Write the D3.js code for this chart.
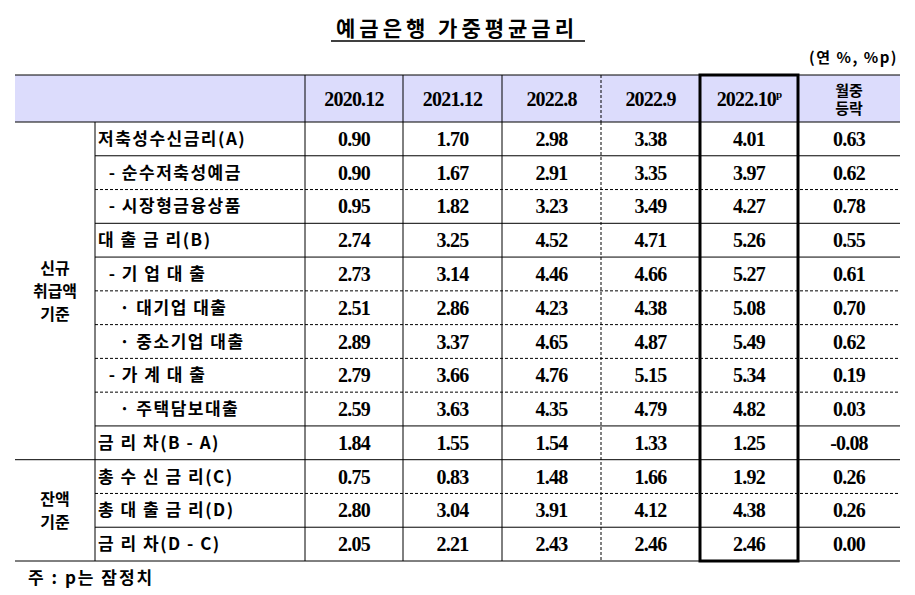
<!DOCTYPE html>
<html><head><meta charset="utf-8">
<script src="https://cdn.jsdelivr.net/npm/d3@7"></script>
<style>body{margin:0;background:#fff} text{white-space:pre}</style>
</head><body><svg id="chart" width="915" height="595"></svg>
<script>
const title = '예금은행 가중평균금리';
const unit = '(연 %, %p)';
const note = '주 : p는 잠정치';
const periods = ['2020.12', '2021.12', '2022.8', '2022.9', '2022.10', '월중 등락'];
const groups = [{name: ['신규', '취급액', '기준'], from: 0, to: 10}, {name: ['잔액', '기준'], from: 10, to: 13}];
const labels = ['저축성수신금리(A)', '  - 순수저축성예금', '  - 시장형금융상품', '대 출 금 리(B)', '  - 기 업 대 출',
  '    · 대기업 대출', '    · 중소기업 대출', '  - 가 계 대 출', '    · 주택담보대출', '금 리 차(B - A)',
  '총 수 신 금 리(C)', '총 대 출 금 리(D)', '금 리 차(D - C)'];
const v202012 = [0.90, 0.90, 0.95, 2.74, 2.73, 2.51, 2.89, 2.79, 2.59, 1.84, 0.75, 2.80, 2.05];
const v202112 = [1.70, 1.67, 1.82, 3.25, 3.14, 2.86, 3.37, 3.66, 3.63, 1.55, 0.83, 3.04, 2.21];
const v202208 = [2.98, 2.91, 3.23, 4.52, 4.46, 4.23, 4.65, 4.76, 4.35, 1.54, 1.48, 3.91, 2.43];
const v202209 = [3.38, 3.35, 3.49, 4.71, 4.66, 4.38, 4.87, 5.15, 4.79, 1.33, 1.66, 4.12, 2.46];
const v202210 = [4.01, 3.97, 4.27, 5.26, 5.27, 5.08, 5.49, 5.34, 4.82, 1.25, 1.92, 4.38, 2.46];
const change  = [0.63, 0.62, 0.78, 0.55, 0.61, 0.70, 0.62, 0.19, 0.03, -0.08, 0.26, 0.26, 0.00];
const columns = [v202012, v202112, v202208, v202209, v202210, change];
// line under each row: true = solid, false = dashed
const solidBelow = [true, false, true, true, false, false, false, false, true, true, false, true, true];

const svg = d3.select('#chart');
const kr = "'Noto Sans CJK KR', sans-serif";
const num = "'Liberation Serif', serif";

const x = d3.scaleOrdinal().domain(['g', 'l', ...periods]).range([15, 95, 305, 403, 502, 601, 700, 798]);
const xEnd = 900;
const colW = (i) => (i < periods.length - 1 ? x(periods[i + 1]) : xEnd) - x(periods[i]);
const y = d3.scaleBand().domain(d3.range(labels.length)).range([122, 561]);
const headTop = 75;

// title
svg.append('text').attr('x', 457).attr('y', 36).attr('text-anchor', 'middle')
  .attr('font-family', kr).attr('font-size', 21).attr('font-weight', 700).attr('letter-spacing', 4).text(title);
svg.append('line').attr('x1', 331).attr('x2', 585).attr('y1', 41).attr('y2', 41).attr('stroke', '#000').attr('stroke-width', 1.5);
svg.append('text').attr('x', 898).attr('y', 63).attr('text-anchor', 'end')
  .attr('font-family', kr).attr('font-size', 15).attr('font-weight', 700).attr('letter-spacing', 1.5).text(unit);

// header
svg.append('rect').attr('x', 15).attr('y', headTop).attr('width', xEnd - 15).attr('height', y.range()[0] - headTop).attr('fill', '#dcdcfc');
periods.forEach((p, i) => {
  const cx = x(p) + colW(i) / 2;
  if (i === 5) {
    ['월중', '등락'].forEach((t, k) => svg.append('text').attr('x', cx).attr('y', 96 + k * 18).attr('text-anchor', 'middle')
      .attr('font-family', kr).attr('font-size', 15).attr('font-weight', 700).text(t));
  } else {
    const t = svg.append('text').attr('x', cx).attr('y', 106).attr('text-anchor', 'middle')
      .attr('font-family', num).attr('font-size', 20).attr('font-weight', 700).attr('letter-spacing', -0.8).text(p);
    if (i === 4) t.append('tspan').attr('font-size', 11).attr('dy', -8).text('p');
  }
});

// body text
labels.forEach((l, r) => {
  svg.append('text').attr('x', 98).attr('y', y(r) + y.bandwidth() / 2 + 6)
    .attr('font-family', kr).attr('font-size', 17).attr('font-weight', 700).attr('letter-spacing', 1.5).text(l);
  columns.forEach((col, i) => {
    svg.append('text').attr('x', x(periods[i]) + colW(i) / 2).attr('y', y(r) + y.bandwidth() / 2 + 7)
      .attr('text-anchor', 'middle').attr('font-family', num).attr('font-size', 20).attr('font-weight', 700)
      .attr('letter-spacing', -0.8).text(col[r].toFixed(2));
  });
});
groups.forEach(g => {
  const cy = (y(g.from) + y(g.to - 1) + y.bandwidth()) / 2;
  g.name.forEach((t, k) => svg.append('text').attr('x', 55).attr('y', cy + (k - (g.name.length - 1) / 2) * 23 + 6)
    .attr('text-anchor', 'middle').attr('font-family', kr).attr('font-size', 16).attr('font-weight', 700).text(t));
});

// grid lines
const line = (x1, y1, x2, y2, dashed, w) => svg.append('line').attr('x1', x1).attr('y1', y1).attr('x2', x2).attr('y2', y2)
  .attr('stroke', '#000').attr('stroke-width', w || 1).attr('stroke-dasharray', dashed ? '3,2' : null);
line(15, headTop, xEnd, headTop);
line(15, y.range()[0], xEnd, y.range()[0]);
solidBelow.forEach((s, r) => {
  const yy = y(r) + y.bandwidth();
  const groupEnd = groups.some(g => g.to === r + 1);
  line(groupEnd ? 15 : x('l'), yy, xEnd, yy, !s);
});
line(x('l'), y.range()[0], x('l'), y.range()[1]);
periods.forEach((p, i) => line(x(p), i === 0 ? headTop : y.range()[0], x(p), y.range()[1], i === 3));
periods.slice(1, 3).forEach(p => line(x(p), headTop, x(p), y.range()[0]));
line(x(periods[3]), headTop, x(periods[3]), y.range()[0], true);
line(x(periods[5]), headTop, x(periods[5]), y.range()[0]);
// highlighted latest column
svg.append('rect').attr('x', x(periods[4])).attr('y', headTop).attr('width', colW(4)).attr('height', y.range()[1] - headTop)
  .attr('fill', 'none').attr('stroke', '#000').attr('stroke-width', 3);

svg.append('text').attr('x', 28).attr('y', 584).attr('font-family', kr).attr('font-size', 17).attr('font-weight', 700)
  .attr('letter-spacing', 2).text(note);
</script></body></html>
